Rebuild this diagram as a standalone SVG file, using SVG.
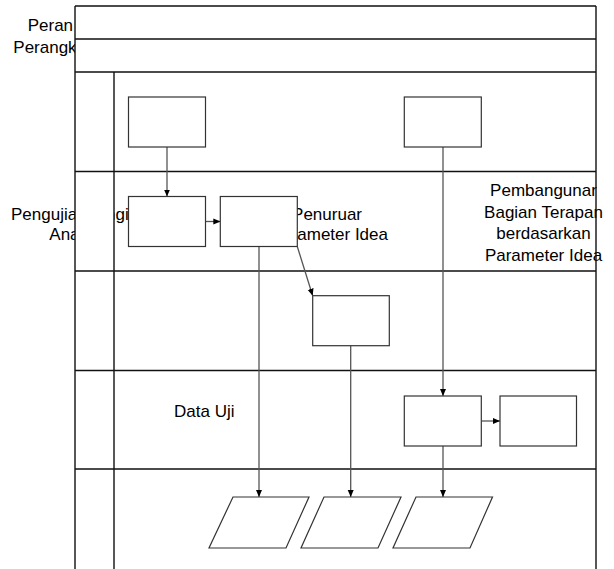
<svg xmlns="http://www.w3.org/2000/svg" width="614" height="569" viewBox="0 0 614 569">
<defs>
<marker id="ah" markerUnits="userSpaceOnUse" markerWidth="7" markerHeight="7" refX="7" refY="3.5" orient="auto">
<path d="M0,0.5 L7,3.5 L0,6.5 z" fill="#000"/>
</marker>
<style>
.t{font-family:"Liberation Sans",Arial,sans-serif;font-size:17px;fill:#000}
.frame{fill:none;stroke:#111;stroke-width:1.4}
.cover{fill:#fff;stroke:none}
.box{fill:#fff;stroke:#333;stroke-width:1.2}
.con{fill:none;stroke:#555;stroke-width:1.3}
.arr{marker-end:url(#ah)}
</style>
</defs>
<rect width="614" height="569" fill="#fff"/>
<g id="labels">
<text class="t" x="27.7" y="31">Peran</text>
<text class="t" x="13.3" y="53">Perangk</text>
<text class="t" x="11" y="220">Pengujia</text>
<text class="t" x="106" y="220">ngi</text>
<text class="t" x="49.3" y="240">Ana</text>
<text class="t" x="362" y="220" text-anchor="end">Penuruar</text>
<text class="t" x="388" y="240" text-anchor="end">ameter Idea</text>
<text class="t" x="543.5" y="196" text-anchor="middle">Pembangunar</text>
<text class="t" x="543.5" y="217.5" text-anchor="middle">Bagian Terapan</text>
<text class="t" x="543.5" y="239" text-anchor="middle">berdasarkan</text>
<text class="t" x="543.5" y="260.5" text-anchor="middle">Parameter Idea</text>
<text class="t" x="174" y="417">Data Uji</text>
</g>
<g id="frame">
<rect class="cover" x="75" y="6" width="521" height="66"/>
<rect class="cover" x="75" y="72" width="39" height="497"/>
<path class="frame" d="M75,6 H596 M75,39 H596 M75,72 H596 M75,171.5 H596 M75,271 H596 M75,370.5 H596 M75,469 H596 M75,6 V569 M114,72 V569 M596,6 V569"/>
</g>
<g id="connectors">
<path class="con arr" d="M167,147 V196.5"/>
<path class="con arr" d="M205.5,221.5 H220.3"/>
<path class="con arr" d="M259,246.5 V497"/>
<path class="con arr" d="M297.3,246.5 L312.7,295.7"/>
<path class="con arr" d="M350.7,345.7 V497"/>
<path class="con arr" d="M443,147 V396"/>
<path class="con arr" d="M481.3,421 H500"/>
<path class="con arr" d="M443,446 V497"/>
</g>
<g id="nodeA"><rect class="box" x="128.5" y="97" width="77" height="50"/></g>
<g id="nodeB"><rect class="box" x="128.5" y="196.5" width="77" height="50"/></g>
<g id="nodeC"><rect class="box" x="220.3" y="196.5" width="77" height="50"/></g>
<g id="nodeD"><rect class="box" x="312.7" y="295.7" width="76.6" height="50"/></g>
<g id="nodeE"><rect class="box" x="404.3" y="97" width="77" height="50"/></g>
<g id="nodeF"><rect class="box" x="404.3" y="396" width="77" height="50"/></g>
<g id="nodeG"><rect class="box" x="500" y="396" width="76.5" height="50"/></g>
<g id="para1"><polygon class="box" points="233,497 309,497 286,548 209,548"/></g>
<g id="para2"><polygon class="box" points="324,497 401,497 378,548 301,548"/></g>
<g id="para3"><polygon class="box" points="416,497 492.5,497 470,548 393,548"/></g>
</svg>
